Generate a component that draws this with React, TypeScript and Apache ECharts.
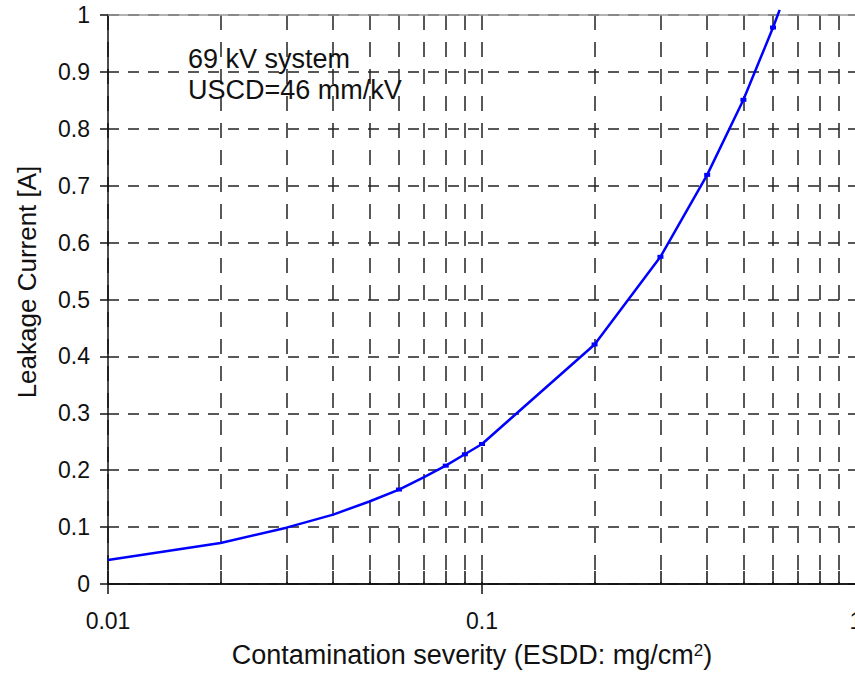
import React, { useEffect, useRef } from 'react';
import * as echarts from 'echarts';

// ESDD (mg/cm^2) and leakage current (A)
const esdd = [0.01, 0.02, 0.03, 0.04, 0.05, 0.06, 0.07, 0.08, 0.09, 0.1, 0.2, 0.3, 0.4, 0.5, 0.6, 0.625];
const leakage = [0.042, 0.072, 0.099, 0.122, 0.145, 0.166, 0.188, 0.208, 0.228, 0.246, 0.421, 0.575, 0.719, 0.851, 0.978, 1.009];
const hasMarker = [false, false, false, false, false, true, false, true, true, true, true, true, true, true, true, false];

const xMajorTicks = [0.01, 0.1, 1];
const xTickLabels = ['0.01', '0.1', '1'];
const xMinorTicks = [0.01, 0.02, 0.03, 0.04, 0.05, 0.06, 0.07, 0.08, 0.09, 0.1, 0.2, 0.3, 0.4, 0.5, 0.6, 0.7, 0.8, 0.9, 1];
const yTickLabels = ['0', '0.1', '0.2', '0.3', '0.4', '0.5', '0.6', '0.7', '0.8', '0.9', '1'];

const annotationLines = ['69 kV system', 'USCD=46 mm/kV'];
const xAxisTitle = 'Contamination severity (ESDD: mg/cm{sup|2})';
const yAxisTitle = 'Leakage Current [A]';

const FONT = '"Liberation Sans", Arial, Helvetica, sans-serif';

export default function App() {
  const ref = useRef<HTMLDivElement>(null);

  useEffect(() => {
    document.body.style.margin = '0';
    if (!ref.current) return;
    const chart = echarts.init(ref.current, undefined, { renderer: 'svg' });

    const xMajorLog = xMajorTicks.map((v) => Math.log10(v));
    const xMinorLog = xMinorTicks.map((v) => Math.log10(v));

    const data = esdd.map((x, i) => {
      const item: any = { value: [Math.log10(x), leakage[i]] };
      if (!hasMarker[i]) item.symbol = 'none';
      return item;
    });

    const axisColor = '#111';

    const option: any = {
      animation: false,
      grid: { left: 108, top: 15, width: 748, height: 569, containLabel: false, outerBoundsMode: 'none' },
      xAxis: [
        {
          type: 'value',
          min: -2,
          max: 0,
          position: 'bottom',
          axisLine: { show: true, onZero: false, lineStyle: { color: axisColor, width: 1.5 } },
          axisTick: { show: true, inside: true, length: 13, customValues: xMinorLog, lineStyle: { color: axisColor, width: 1.5 } },
          axisLabel: { show: false },
          splitLine: { show: true, lineStyle: { type: [15, 12], color: '#222', width: 1.5 } },
        },
        {
          type: 'value',
          min: -2,
          max: 0,
          position: 'bottom',
          axisLine: { show: true, onZero: false, lineStyle: { color: axisColor, width: 1.5 } },
          axisTick: { show: true, inside: false, length: 10, customValues: xMajorLog, lineStyle: { color: axisColor, width: 1.5 } },
          axisLabel: {
            show: true,
            customValues: xMajorLog,
            margin: 25,
            fontSize: 23,
            fontFamily: FONT,
            color: '#111',
            formatter: (v: number) => {
              let best = 0;
              xMajorLog.forEach((m, i) => {
                if (Math.abs(m - v) < Math.abs(xMajorLog[best] - v)) best = i;
              });
              return xTickLabels[best];
            },
          },
          splitLine: { show: false },
        },
        {
          type: 'value',
          min: -2,
          max: 0,
          position: 'top',
          axisLine: { show: true, onZero: false, lineStyle: { color: '#999', width: 1.5 } },
          axisTick: { show: false },
          axisLabel: { show: false },
          splitLine: { show: false },
        },
      ],
      yAxis: [
        {
          type: 'value',
          min: 0,
          max: 1,
          interval: 0.1,
          position: 'left',
          axisLine: { show: true, onZero: false, lineStyle: { color: axisColor, width: 1.5 } },
          axisTick: { show: true, inside: false, length: 8, lineStyle: { color: axisColor, width: 1.5 } },
          axisLabel: {
            margin: 18,
            fontSize: 23,
            fontFamily: FONT,
            color: '#111',
            formatter: (v: number) => yTickLabels[Math.round(v * 10)],
          },
          splitLine: { show: true, lineStyle: { type: [11, 9], color: '#222', width: 1.5 } },
        },
        {
          type: 'value',
          min: 0,
          max: 1,
          interval: 0.1,
          position: 'left',
          axisLine: { show: false },
          axisTick: { show: true, inside: true, length: 10, lineStyle: { color: axisColor, width: 1.5 } },
          axisLabel: { show: false },
          splitLine: { show: false },
        },
      ],
      series: [
        {
          type: 'line',
          xAxisIndex: 0,
          yAxisIndex: 0,
          data,
          clip: false,
          smooth: false,
          symbol: 'rect',
          symbolSize: [6, 4],
          showSymbol: true,
          lineStyle: { color: '#0000ff', width: 2.5 },
          itemStyle: { color: '#0000ff' },
          z: 5,
        },
      ],
      graphic: [
        {
          type: 'text',
          left: 188,
          top: 43,
          style: {
            text: annotationLines.join('\n'),
            fontSize: 27,
            lineHeight: 31,
            fontFamily: FONT,
            fill: '#111',
          },
          z: 10,
        },
        {
          type: 'text',
          x: 27,
          y: 282,
          rotation: Math.PI / 2,
          style: {
            text: yAxisTitle,
            fontSize: 26,
            fontFamily: FONT,
            fill: '#111',
            align: 'center',
            verticalAlign: 'middle',
          },
        },
        {
          type: 'text',
          x: 472,
          y: 655,
          style: {
            text: xAxisTitle,
            fontSize: 27,
            fontFamily: FONT,
            fill: '#111',
            align: 'center',
            verticalAlign: 'middle',
            rich: {
              sup: { fontSize: 17, fontFamily: FONT, fill: '#111', verticalAlign: 'top', padding: [0, 0, 10, 0] },
            },
          },
        },
      ],
    };

    chart.setOption(option);
    return () => chart.dispose();
  }, []);

  return <div ref={ref} style={{ width: 855, height: 674 }} />;
}
